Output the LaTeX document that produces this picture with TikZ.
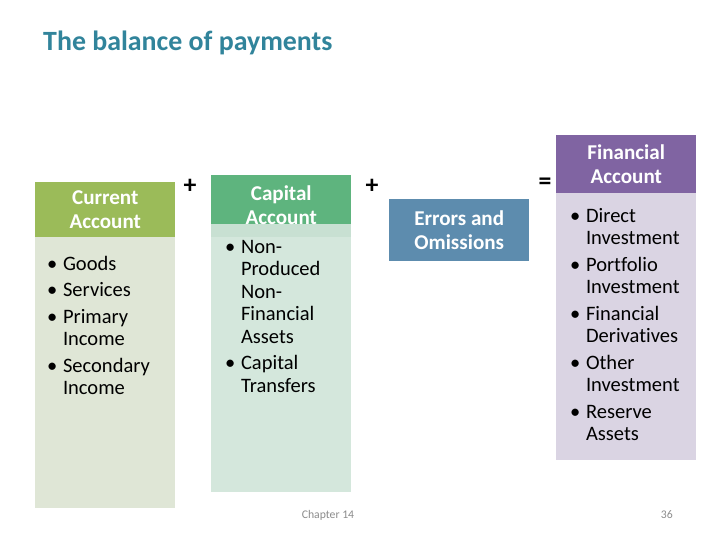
\documentclass[tikz,border=0pt]{standalone}
\usepackage{fontspec}
\setmainfont{Carlito}[Ligatures=NoCommon]
\usetikzlibrary{positioning}

\definecolor{titleblue}{HTML}{31849B}
\definecolor{curhead}{HTML}{9BBB59}
\definecolor{curbody}{HTML}{DFE6D6}
\definecolor{caphead}{HTML}{5EB47E}
\definecolor{capstrip}{HTML}{C8E0D2}
\definecolor{capbody}{HTML}{D4E7DC}
\definecolor{errfill}{HTML}{5D8CAE}
\definecolor{finhead}{HTML}{8064A2}
\definecolor{finbody}{HTML}{DAD4E3}
\definecolor{footgray}{HTML}{8C8C8C}

\newcommand{\bpt}{\makebox[13.5pt][l]{\textbullet}}
\newcommand{\bsk}{\hspace*{13.5pt}}

\begin{document}
\begin{tikzpicture}[
  x=0.03cm, y=-0.03cm,
  hdr/.style={anchor=north west, inner sep=0pt, minimum width=4.2cm,
              align=center, text=white,
              font=\fontsize{18}{20.5}\selectfont\bfseries},
  lst/.style={anchor=north west, inner sep=0pt, align=left,
              font=\fontsize{17.5}{19.2}\selectfont},
  op/.style={font=\fontsize{22}{22}\selectfont\bfseries},
  foot/.style={text=footgray, font=\fontsize{10}{12}\selectfont}
]
\useasboundingbox[fill=white] (0,0) rectangle (720,540);

%% --- title ---
\node[anchor=base west, inner sep=0pt, text=titleblue,
      font=\fontsize{23.8}{28}\selectfont\bfseries] (title) at (43,51)
  {The balance of payments};

%% --- current account ---
\fill[curbody] (35,237) rectangle (175,508);
\node[hdr, fill=curhead, minimum height=1.65cm] (cur) at (35,182)
  {Current\\Account};
\node[lst] (curlist) at (47,256)
  {\bpt Goods\\[3.4pt]
   \bpt Services\\[3.4pt]
   \bpt Primary\\
   \bsk Income\\[3.4pt]
   \bpt Secondary\\
   \bsk Income};

\node[op] (plusa) at (190,186) {+};

%% --- capital account ---
\fill[capbody] (211,237) rectangle (351,492);
\fill[capstrip] (211,224) rectangle (351,237);
\node[hdr, fill=caphead, minimum height=1.47cm] (cap) at (211,175) {};
\node[hdr, anchor=center] (captext) at ([yshift=-0.15cm]cap.center)
  {Capital\\Account};
\node[lst] (caplist) at (225,240)
  {\bpt Non-\\
   \bsk Produced\\
   \bsk Non-\\
   \bsk Financial\\
   \bsk Assets\\[3.4pt]
   \bpt Capital\\
   \bsk Transfers};

\node[op] (plusb) at (372,186) {+};

%% --- errors and omissions ---
\node[hdr, fill=errfill, minimum height=1.86cm] (err) at (389,199)
  {Errors and\\Omissions};

\node[op] (eq) at (545,184) {=};

%% --- financial account ---
\fill[finbody] (556,193) rectangle (696,460);
\node[hdr, fill=finhead, minimum height=1.74cm] (fin) at (556,135)
  {Financial\\Account};
\node[lst] (finlist) at (570,208)
  {\bpt Direct\\
   \bsk Investment\\[3.4pt]
   \bpt Portfolio\\
   \bsk Investment\\[3.4pt]
   \bpt Financial\\
   \bsk Derivatives\\[3.4pt]
   \bpt Other\\
   \bsk Investment\\[3.4pt]
   \bpt Reserve\\
   \bsk Assets};

%% --- footer ---
\node[foot] (chap) at (328,515) {Chapter 14};
\node[foot, anchor=east] (page) at (677,515) {36};
\end{tikzpicture}
\end{document}
